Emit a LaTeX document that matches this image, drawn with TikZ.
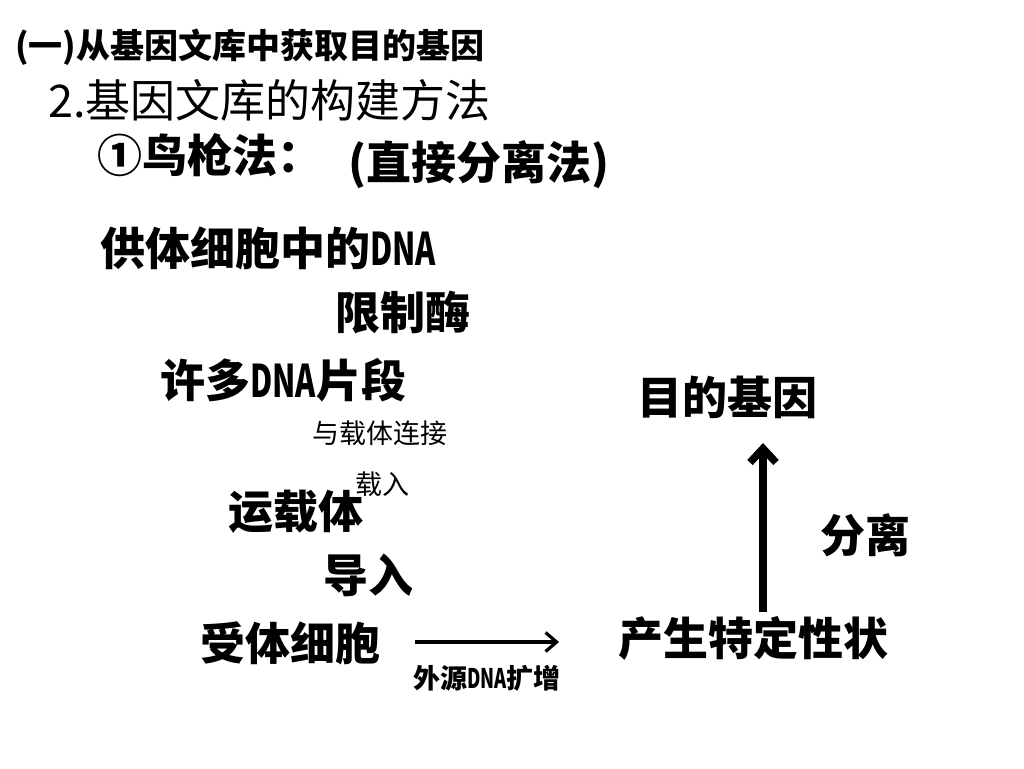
\documentclass[tikz,border=0pt]{standalone}
\usepackage{fontspec}
\usepackage{graphicx}
\usetikzlibrary{arrows.meta}
\newfontfamily\cjk{Noto Sans CJK SC}
\newcommand{\narrowlat}[1]{\scalebox{0.68}[1]{#1}}
\tikzset{
  bigtext/.style={anchor=west, inner sep=0pt, font=\cjk\bfseries\fontsize{45}{45}\selectfont},
  headtext/.style={anchor=west, inner sep=0pt, font=\cjk\bfseries\fontsize{34}{34}\selectfont},
  titletext/.style={anchor=west, inner sep=0pt, font=\cjk\fontsize{45}{45}\selectfont},
  smalltext/.style={anchor=west, inner sep=0pt, font=\cjk\fontsize{27}{27}\selectfont},
  smallbold/.style={anchor=west, inner sep=0pt, font=\cjk\bfseries\fontsize{27}{27}\selectfont},
}
\begin{document}
\begin{tikzpicture}[x=1pt,y=-1pt]
                \useasboundingbox[fill=white] (0,0) rectangle (1024,768);
                % headings
                \node[headtext] (head) at (15,47) {(一)从基因文库中获取目的基因};
                \node[titletext] (title) at (48,100) {2.基因文库的构建方法};
                \node[bigtext] (method) at (97,155) {①鸟枪法：};
                \node[bigtext] (direct) at (348,165) {(直接分离法)};
                % left column
                \node[bigtext] (donor) at (100,248) {供体细胞中的\narrowlat{DNA}};
                \node[bigtext] (enzyme) at (335,312) {限制酶};
                \node[bigtext] (frag) at (160,380) {许多\narrowlat{DNA}片段};
                \node[smalltext] (link) at (312,433) {与载体连接};
                \node[smalltext] (load) at (355,484) {载入};
                \node[bigtext] (vector) at (228,512) {运载体};
                \node[bigtext] (intro) at (323,575) {导入};
                \node[bigtext] (recv) at (200,643) {受体细胞};
                \node[smallbold] (amp) at (413,678) {外源\narrowlat{DNA}扩增};
                % right column
                \node[bigtext] (trait) at (618,638) {产生特定性状};
                \node[bigtext] (gene) at (637,397) {目的基因};
                \node[bigtext] (sep) at (820,535) {分离};
                \coordinate (ampend) at (559,642);
                \coordinate (sepbot) at (763,612);
                \coordinate (septop) at (763,443);
                \draw[line width=3.2pt,-{Straight Barb[length=11pt,width=19pt]}] (recv.east) ++(35,-1) -- (ampend);
                \draw[line width=7.5pt,-{Straight Barb[length=14pt,width=26pt]}] (sepbot) -- (septop);
            \end{tikzpicture}
\end{document}
